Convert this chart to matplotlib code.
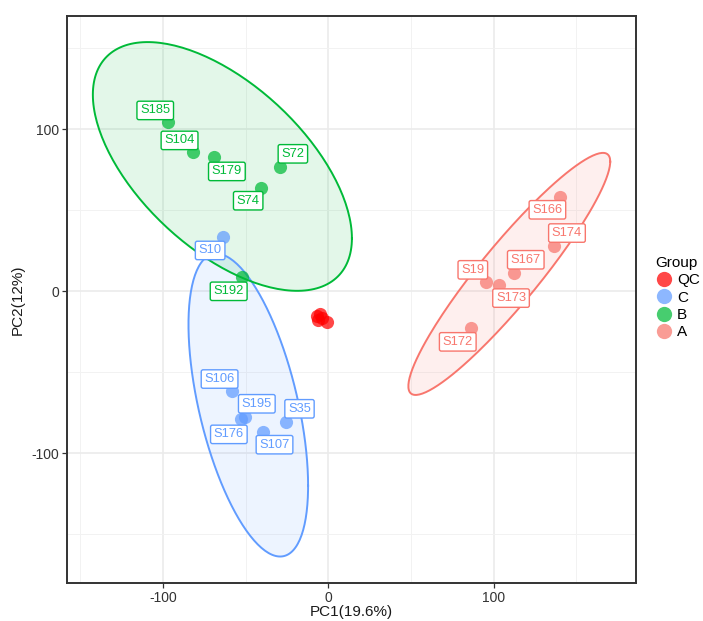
import numpy as np
import matplotlib
matplotlib.use("Agg")
import matplotlib.pyplot as plt
from matplotlib.lines import Line2D

plt.rcParams['font.family'] = ['Liberation Sans', 'DejaVu Sans']
plt.rcParams['axes.unicode_minus'] = False

# ---- data ----
groups = ["QC", "C", "B", "A"]
colors = {"QC": "#FF0000", "C": "#619CFF", "B": "#00BA38", "A": "#F8766D"}

qc_x = [-6.9, -5.1, -6.3, -3.9, -0.9]
qc_y = [-15.4, -14.2, -17.9, -16.7, -19.3]

c_names = ["S10", "S106", "S195", "S176", "S107", "S35"]
c_x = [-63.6, -58.5, -50.5, -52.9, -39.8, -25.3]
c_y = [33.1, -61.7, -77.6, -79.2, -86.8, -80.7]

b_names = ["S185", "S104", "S179", "S72", "S74", "S192"]
b_x = [-96.8, -82.1, -69.2, -29.3, -40.6, -52.4]
b_y = [104.1, 85.6, 82.5, 76.7, 63.8, 8.5]

a_names = ["S166", "S174", "S167", "S19", "S173", "S172"]
a_x = [140.3, 136.4, 112.1, 95.2, 103.2, 86.1]
a_y = [58.2, 27.8, 11.3, 5.7, 3.7, -22.7]

x_ticks = [-100, 0, 100]
y_ticks = [-100, 0, 100]
x_label = "PC1(19.6%)"
y_label = "PC2(12%)"

# label offsets in pixels (layout, like ggrepel placement)
label_offsets = {
    "S185": (-13, 12), "S104": (-13, 12), "S179": (13, -14), "S72": (13, 13),
    "S74": (-13, -13), "S192": (-13, -14),
    "S10": (-13, -13), "S106": (-12, 12), "S195": (12, 13), "S176": (-12, -15),
    "S107": (12, -13), "S35": (13, 13),
    "S166": (-13, -13), "S174": (13, 13), "S167": (12, 13), "S19": (-13, 12),
    "S173": (12, -13), "S172": (-13, -14),
}


def cov_trob(x, nu=5, maxit=25, tol=0.01):
    n, p = x.shape
    wt = np.ones(n)
    loc = x.mean(0)
    w = np.sqrt(wt)
    X = x - loc
    for _ in range(maxit):
        w0 = w
        X = x - loc
        _, d, Vt = np.linalg.svd(np.sqrt(w / w.sum())[:, None] * X, full_matrices=False)
        wX = X @ Vt.T @ np.diag(1 / d)
        Q = (wX ** 2).sum(1)
        w = wt * (nu + p) / (nu + Q)
        loc = (w[:, None] * x).sum(0) / w.sum()
        if np.all(np.abs(w - w0) < tol):
            break
    sX = np.sqrt(w)[:, None] * X
    cov = sX.T @ sX / wt.sum()
    return cov, loc


def ellipse_pts(xs, ys, level=0.95, segments=200):
    data = np.column_stack([xs, ys])
    n = len(xs)
    dfd = n - 1
    qf = (dfd / 2.0) * ((1 - level) ** (-2.0 / dfd) - 1)
    radius = np.sqrt(2 * qf)
    cov, center = cov_trob(data)
    L = np.linalg.cholesky(cov)
    ang = np.linspace(0, 2 * np.pi, segments + 1)
    circ = np.column_stack([np.cos(ang), np.sin(ang)])
    return center + radius * circ @ L.T


fig = plt.figure(figsize=(7.03, 6.21), dpi=100)
ax = fig.add_axes([67 / 703, 38 / 621, 569 / 703, 567 / 621])

ax.set_xlim(-158, 186)
ax.set_ylim(-180.2, 169.8)

# grid
ax.set_xticks(x_ticks)
ax.set_yticks(y_ticks)
ax.set_xticks([-150, -50, 50, 150], minor=True)
ax.set_yticks([-150, -50, 50, 150], minor=True)
ax.grid(True, which='major', color='#EBEBEB', lw=1.2, zorder=0)
ax.grid(True, which='minor', color='#F2F2F2', lw=0.7, zorder=0)
ax.set_axisbelow(True)
ax.tick_params(which='minor', length=0)
ax.tick_params(which='major', length=3.5, width=0.9, color='#333333',
               labelsize=10, labelcolor='#333333', pad=2)
for s in ax.spines.values():
    s.set_color('#333333')
    s.set_linewidth(1.4)

# ellipses
for g, xs, ys in [("C", c_x, c_y), ("B", b_x, b_y), ("A", a_x, a_y)]:
    pts = ellipse_pts(np.array(xs), np.array(ys))
    ax.fill(pts[:, 0], pts[:, 1], color=colors[g], alpha=0.11, lw=0, zorder=1)
    ax.plot(pts[:, 0], pts[:, 1], color=colors[g], lw=1.4, zorder=2)

# points
for g, xs, ys in [("QC", qc_x, qc_y), ("C", c_x, c_y), ("B", b_x, b_y), ("A", a_x, a_y)]:
    ax.scatter(xs, ys, s=90, color=colors[g], alpha=0.72, lw=0, zorder=3)

# labels
for g, names, xs, ys in [("C", c_names, c_x, c_y), ("B", b_names, b_x, b_y),
                         ("A", a_names, a_x, a_y)]:
    for nm, x, y in zip(names, xs, ys):
        ax.annotate(nm, (x, y), xytext=label_offsets[nm], textcoords='offset pixels',
                    ha='center', va='center', fontsize=9.3, color=colors[g], zorder=5,
                    bbox=dict(boxstyle='round,pad=0.25,rounding_size=0.15',
                              fc='white', ec=colors[g], lw=1.0))

ax.set_xlabel(x_label, fontsize=11, color='#1A1A1A', labelpad=0)
ax.set_ylabel(y_label, fontsize=11, color='#1A1A1A', labelpad=5)

handles = [Line2D([], [], marker='o', ls='', markersize=11, color=colors[g],
                  alpha=0.72, markeredgewidth=0) for g in groups]
leg = fig.legend(handles, groups, title="Group", loc='upper left',
                 bbox_to_anchor=(655 / 703, 1 - 256 / 621), frameon=False,
                 fontsize=11, title_fontsize=11, handletextpad=0.25,
                 labelspacing=0.22, handlelength=1.2, borderaxespad=0,
                 borderpad=0)
leg._legend_box.align = "left"

fig.savefig("out.png", dpi=100)
